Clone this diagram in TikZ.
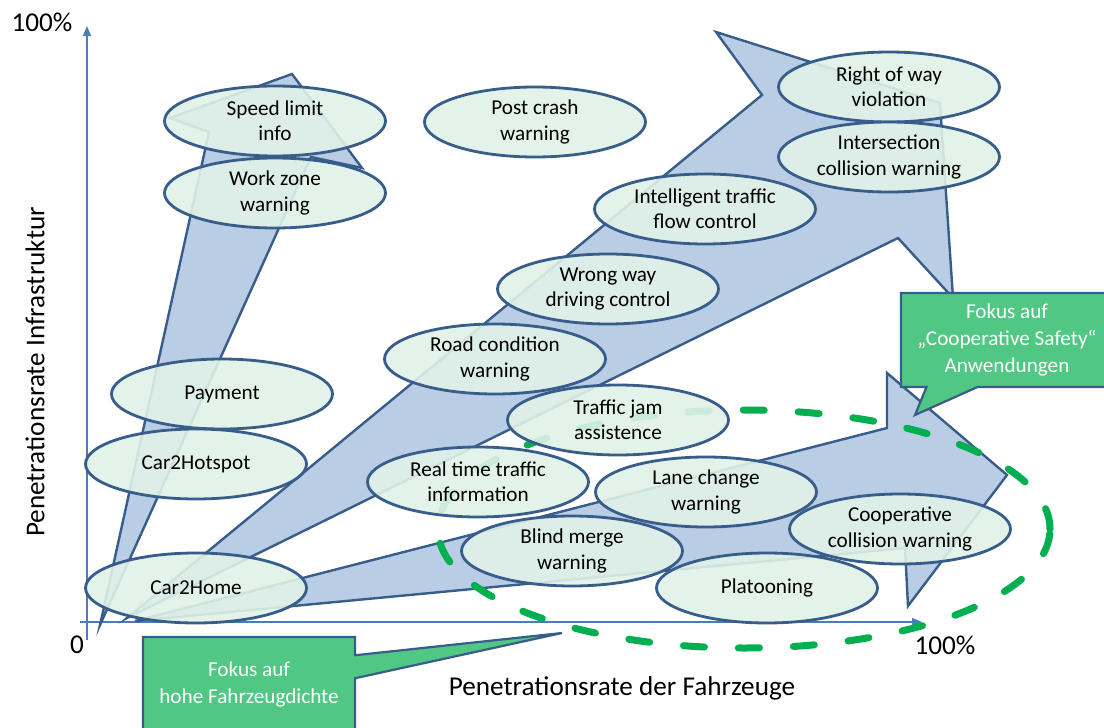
\documentclass[tikz,border=0pt]{standalone}
\usepackage{fontspec}
\setmainfont{Carlito}
\usetikzlibrary{arrows.meta,shapes.geometric,shapes.callouts}

\definecolor{roadfill}{RGB}{185,205,229}
\definecolor{darkblue}{RGB}{56,93,138}
\definecolor{mint}{RGB}{224,242,232}
\definecolor{focusgreen}{RGB}{80,200,132}
\definecolor{ringgreen}{RGB}{0,176,80}
\definecolor{axisblue}{RGB}{74,126,187}

\begin{document}
\begin{tikzpicture}[
  x=0.5pt, y=-0.5pt,
  app/.style  ={ellipse,draw=darkblue,line width=1.4pt,fill=mint,fill opacity=0.9,text opacity=1,
                minimum width=110.5pt,minimum height=35pt,inner sep=0pt,align=center,
                font=\fontsize{10.6pt}{12.6pt}\selectfont},
  road/.style ={draw=darkblue,line width=1.2pt,fill=roadfill,line join=miter},
  focus/.style={rectangle callout,draw=darkblue,line width=1.1pt,fill=focusgreen,text=white,
                minimum width=106pt,minimum height=47pt,inner sep=0pt,align=center,
                font=\fontsize{10.6pt}{13.5pt}\selectfont},
  axis/.style ={draw=axisblue,line width=0.6pt,-{Triangle[length=5pt,width=4pt]}},
  ring/.style ={draw=ringgreen,line width=3.5pt,line cap=round,dash pattern=on 10.5pt off 17pt},
  lbl/.style  ={font=\fontsize{13.6pt}{15pt}\selectfont,inner sep=0pt},
]
\clip (0,0) rectangle (1104,728);

% ----------------------------------------------------------- axes
\draw[axis] (87,640) -- (87,26);
\draw[axis] (80,622) -- (922,622);
\node[lbl] (zero) at (77,645) {0};
\node[lbl] (ytop) at (42,22) {100\%};
\node[lbl] (xtop) at (945,645) {100\%};
\node[lbl,rotate=90] (ylab) at (35,372) {Penetrationsrate Infrastruktur};
\node[lbl] (xlab) at (622,688) {Penetrationsrate der Fahrzeuge};

% ----------------------------------------------------------- the three road arrows
\draw[road] (100,625) -- (209,132) -- (170,118) -- (292,74) -- (362,168) -- (311,157) -- cycle;
\draw[road] (127,618) -- (762,95) -- (716,32) -- (940,103) -- (953,298) -- (898,238) -- cycle;
\draw[road] (135,621) -- (887,428) -- (887,373) -- (1007,475) -- (908,606) -- (905,548) -- cycle;

% ----------------------------------------------------------- focus ring
\draw[ring] (744,529) ellipse [x radius=153pt, y radius=59.5pt];

% ----------------------------------------------------------- applications
\node[app] (speed)        at (275,121) {Speed limit\\info};
\node[app] (workzone)     at (275,193) {Work zone\\warning};
\node[app] (postcrash)    at (535,122) {Post crash\\warning};
\node[app] (rightofway)   at (889,87)  {Right of way\\violation};
\node[app] (intersection) at (889,157) {Intersection\\collision warning};
\node[app] (trafficflow)  at (705,209) {Intelligent traffic\\flow control};
\node[app] (wrongway)     at (608,289) {Wrong way\\driving control};
\node[app] (roadcond)     at (495,359) {Road condition\\warning};
\node[app] (payment)      at (222,394) {Payment};
\node[app] (hotspot)      at (196,464) {Car2Hotspot};
\node[app] (trafficjam)   at (618,420) {Traffic jam\\assistence};
\node[app] (realtime)     at (478,482) {Real time traffic\\information};
\node[app] (lanechange)   at (706,492) {Lane change\\warning};
\node[app] (blindmerge)   at (572,551) {Blind merge\\warning};
\node[app] (platooning)   at (767,588) {Platooning};
\node[app] (coopcoll)     at (900,529) {Cooperative\\collision warning};
\node[app] (home)         at (196,588) {Car2Home};

% ----------------------------------------------------------- focus callouts
\node[focus,callout absolute pointer={(562,633)},callout pointer width=11.5pt] (fdensity)
  at (249,684) {Fokus auf\\hohe Fahrzeugdichte};
\node[focus,callout absolute pointer={(915,415)},callout pointer width=25.5pt] (fsafety)
  at (1007,340) {Fokus auf\\„Cooperative Safety“\\Anwendungen};

\end{tikzpicture}
\end{document}
